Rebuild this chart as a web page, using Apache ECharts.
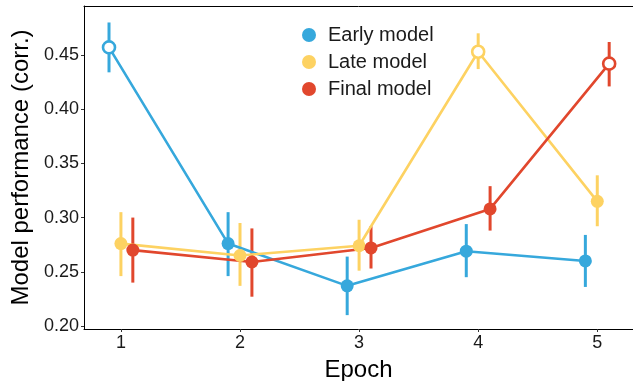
<!DOCTYPE html>
<html>
<head>
<meta charset="utf-8">
<script src="https://cdn.jsdelivr.net/npm/echarts@6/dist/echarts.min.js"></script>
<style>
  html, body { margin: 0; padding: 0; background: #fff; }
  #main { width: 633px; height: 381px; }
</style>
</head>
<body>
<div id="main"></div>
<script>
var epochs = [1, 2, 3, 4, 5];
var seriesNames = ['Early model', 'Late model', 'Final model'];
var colors = ['#36A8DC', '#FDD262', '#E1472D'];
var dodge = [-0.1, 0, 0.1];

var earlyMean = [0.457, 0.276, 0.237, 0.269, 0.260];
var earlyLo   = [0.434, 0.246, 0.210, 0.245, 0.236];
var earlyHi   = [0.480, 0.305, 0.264, 0.294, 0.284];

var lateMean  = [0.276, 0.265, 0.274, 0.453, 0.315];
var lateLo    = [0.246, 0.237, 0.251, 0.437, 0.292];
var lateHi    = [0.305, 0.295, 0.298, 0.470, 0.339];

var finalMean = [0.270, 0.259, 0.272, 0.308, 0.442];
var finalLo   = [0.240, 0.227, 0.253, 0.288, 0.421];
var finalHi   = [0.300, 0.290, 0.292, 0.329, 0.462];

var yTicks = [0.20, 0.25, 0.30, 0.35, 0.40, 0.45];

var means = [earlyMean, lateMean, finalMean];
var los = [earlyLo, lateLo, finalLo];
var his = [earlyHi, lateHi, finalHi];

var font = "'Liberation Sans', Arial, sans-serif";
var chart = echarts.init(document.getElementById('main'));

var series = [];
// error bars first, so points sit on top
seriesNames.forEach(function (name, s) {
    series.push({
        name: name,
        type: 'custom',
        z: 1,
        silent: true,
        itemStyle: { color: colors[s] },
        renderItem: function (params, api) {
            var p1 = api.coord([api.value(0), api.value(1)]);
            var p2 = api.coord([api.value(0), api.value(2)]);
            return {
                type: 'line',
                shape: { x1: p1[0], y1: p1[1], x2: p2[0], y2: p2[1] },
                style: { stroke: colors[s], lineWidth: 3 }
            };
        },
        data: epochs.map(function (e, i) {
            return [e + dodge[s], los[s][i], his[s][i]];
        })
    });
});
seriesNames.forEach(function (name, s) {
    var m = means[s];
    var maxIdx = m.indexOf(Math.max.apply(null, m));
    series.push({
        name: name,
        type: 'line',
        z: 3,
        symbol: 'circle',
        symbolSize: 13,
        showAllSymbol: true,
        lineStyle: { color: colors[s], width: 2.6 },
        itemStyle: { color: colors[s] },
        emphasis: { disabled: true },
        data: epochs.map(function (e, i) {
            var item = { value: [e + dodge[s], m[i]] };
            if (i === maxIdx) {
                item.symbolSize = 12;
                item.itemStyle = { color: '#fff', borderColor: colors[s], borderWidth: 2.6 };
            }
            return item;
        })
    });
});

var option = {
    animation: false,
    textStyle: { fontFamily: font },
    grid: {
        left: 84, right: 0, top: 6, bottom: 52,
        containLabel: false,
        outerBoundsMode: 'none'
    },
    legend: {
        data: seriesNames.map(function (n, s) {
            return { name: n, icon: 'circle', itemStyle: { color: colors[s] } };
        }),
        orient: 'vertical',
        left: 297,
        top: 20,
        itemWidth: 14,
        itemHeight: 14,
        itemGap: 7,
        textStyle: { fontSize: 20, lineHeight: 20, color: '#1a1a1a', fontFamily: font, padding: [0, 0, 0, 7] }
    },
    xAxis: [{
        type: 'value',
        min: 0.69,
        max: 5.3,
        name: 'Epoch',
        nameLocation: 'middle',
        nameGap: 29,
        nameTextStyle: { fontSize: 24, color: '#000', fontFamily: font },
        splitLine: { show: false },
        axisLine: { lineStyle: { color: '#000', width: 1 } },
        axisTick: { length: 3, lineStyle: { color: '#333' }, customValues: epochs },
        axisLabel: { fontSize: 18, color: '#1a1a1a', margin: 5, customValues: epochs }
    }, {
        type: 'value',
        position: 'top',
        min: 0.69,
        max: 5.3,
        splitLine: { show: false },
        axisLine: { show: true, lineStyle: { color: '#000', width: 1 } },
        axisTick: { show: false },
        axisLabel: { show: false }
    }],
    yAxis: {
        type: 'value',
        min: 0.1972,
        max: 0.4952,
        name: 'Model performance (corr.)',
        nameLocation: 'middle',
        nameGap: 44,
        nameTextStyle: { fontSize: 24, color: '#000', fontFamily: font },
        splitLine: { show: false },
        axisLine: { show: true, lineStyle: { color: '#000', width: 1 } },
        axisTick: { show: true, length: 3, lineStyle: { color: '#333' }, customValues: yTicks },
        axisLabel: {
            fontSize: 18, color: '#1a1a1a', margin: 5, customValues: yTicks,
            formatter: function (v) { return v.toFixed(2); }
        }
    },
    series: series
};

chart.setOption(option);
</script>
</body>
</html>
